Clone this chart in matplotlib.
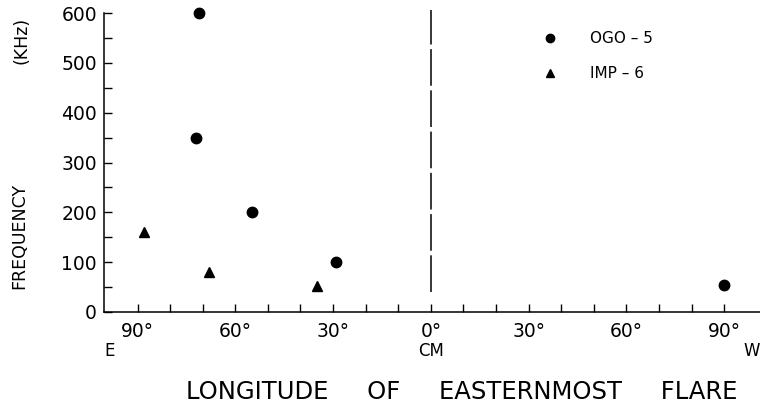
import numpy as np
import matplotlib
matplotlib.use("Agg")
import matplotlib.pyplot as plt
import matplotlib.transforms as mtransforms

# longitude: east is negative, west is positive (degrees from central meridian)
ogo_lon = [-71, -72, -55, -29, 90]
ogo_freq = [600, 350, 200, 100, 55]
imp_lon = [-88, -68, -35]
imp_freq = [160, 80, 52]

xtick_pos = [-90, -60, -30, 0, 30, 60, 90]
xtick_lab = ["90°", "60°", "30°", "0°", "30°", "60°", "90°"]
side_pos = [-98.5, 0, 98.5]
side_lab = ["E", "CM", "W"]

cm_bottom = 40
cm_top = 606

plt.rcParams["font.family"] = "DejaVu Sans"

fig = plt.figure(figsize=(7.6, 4.08), dpi=100)
ax = fig.add_axes([0.1368, 0.2353, 0.8632, 0.7328])

ax.plot(ogo_lon, ogo_freq, "o", color="black", markersize=7.5,
        clip_on=False, label="OGO – 5")
ax.plot(imp_lon, imp_freq, "^", color="black", markersize=7.5,
        clip_on=False, label="IMP – 6")

ax.plot([0, 0], [cm_bottom, cm_top], color="black", linewidth=1.1,
        dashes=(24, 3), clip_on=False)

ax.set_xlim(-100.3, 101)
ax.set_ylim(0, 600)

ax.spines["top"].set_visible(False)
ax.spines["right"].set_visible(False)
for s in ["left", "bottom"]:
    ax.spines[s].set_linewidth(1.1)

ax.set_xticks(xtick_pos)
ax.set_xticklabels(xtick_lab)
ax.set_xticks(np.arange(-90, 91, 10), minor=True)
ax.set_yticks(np.arange(0, 601, 100))
ax.set_yticks(np.arange(0, 601, 50), minor=True)
ax.tick_params(which="both", direction="in", length=5.5, width=1.0)
ax.tick_params(axis="x", which="major", pad=7, labelsize=13.5)
ax.tick_params(axis="y", which="major", pad=5, labelsize=13.5)

trans = mtransforms.blended_transform_factory(ax.transData, ax.transAxes)
for p, t in zip(side_pos, side_lab):
    ax.text(p, -0.131, t, transform=trans, ha="center", va="center",
            fontsize=12)

ax.set_xlabel("LONGITUDE     OF     EASTERNMOST     FLARE", fontsize=17.5)
ax.xaxis.set_label_coords(0.546, -0.228)

ax.set_ylabel("FREQUENCY", fontsize=12.5)
ax.yaxis.set_label_coords(-0.115, 0.255)
ax.text(-0.126, 0.909, "(KHz)", transform=ax.transAxes, rotation=90,
        ha="center", va="center", fontsize=12.5)

ax.legend(loc="upper left", bbox_to_anchor=(0.668, 0.94), frameon=False,
          handlelength=1, handletextpad=2.1, borderaxespad=0, borderpad=0,
          labelspacing=1.33, markerscale=0.8, fontsize=11)

fig.savefig("out.png", dpi=100)
